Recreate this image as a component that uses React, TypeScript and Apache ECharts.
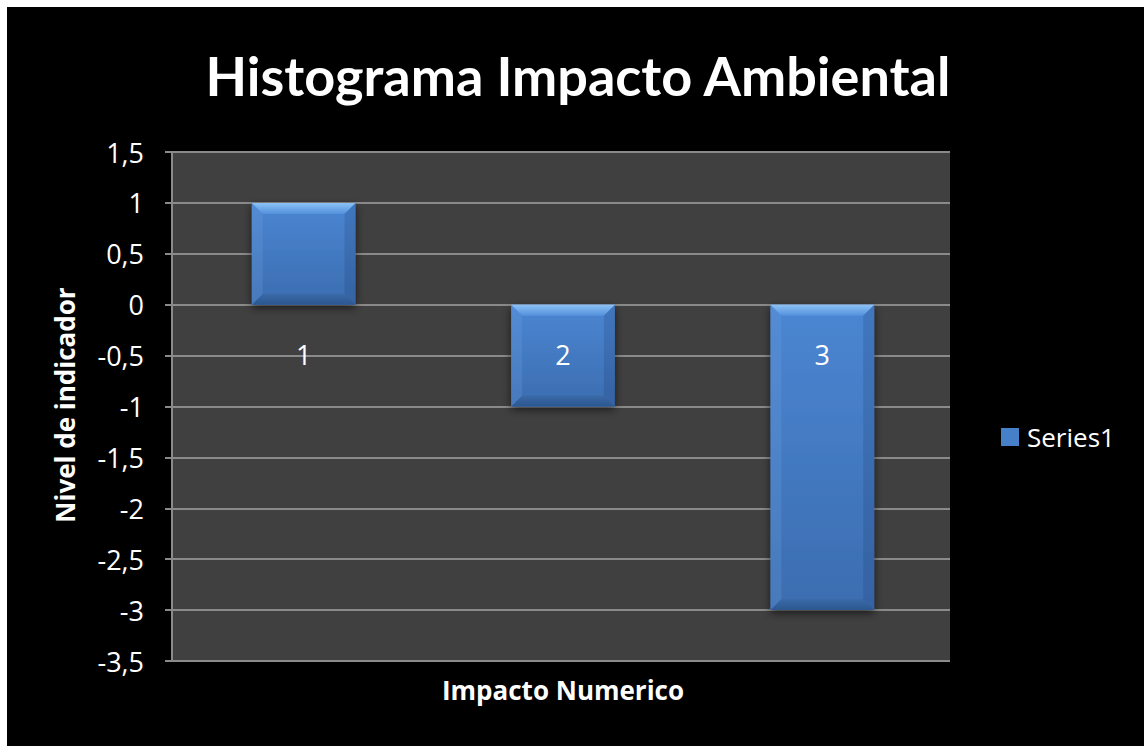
import React, { useEffect, useRef } from "react";
import * as echarts from "echarts";

const categories = ["1", "2", "3"];
const values = [1, -1, -3];
const yTicks = { min: -3.5, max: 1.5, interval: 0.5 };
const seriesName = "Series1";
const titleText = "Histograma Impacto Ambiental";
const xTitle = "Impacto Numerico";
const yTitle = "Nivel de indicador";

const FONT = "'Open Sans', Lato, sans-serif";
const TITLE_FONT = "Lato, 'Open Sans', sans-serif";

export default function App() {
  const ref = useRef<HTMLDivElement>(null);
  useEffect(() => {
    if (!ref.current) return;
    const chart = echarts.init(ref.current, null, { renderer: "svg" });
    const renderItem = (params: any, api: any) => {
      const idx = api.value(0);
      const v = api.value(1);
      const p0 = api.coord([idx, 0]);
      const p1 = api.coord([idx, v]);
      const w = api.size([1, 0])[0] * 0.4;
      const cx = p0[0] + 2;
      const x = cx - w / 2;
      const y = Math.min(p0[1], p1[1]);
      const h = Math.abs(p1[1] - p0[1]);
      const b = 11;
      return {
        type: "group",
        children: [
          {
            type: "rect",
            shape: { x, y, width: w, height: h },
            style: {
              fill: new echarts.graphic.LinearGradient(0, 0, 0, 1, [
                { offset: 0, color: "#4b86d2" },
                { offset: 1, color: "#3b6db0" },
              ]),
              shadowBlur: 8,
              shadowColor: "rgba(0,0,0,0.6)",
              shadowOffsetY: 3,
            },
          },
          {
            type: "polygon",
            shape: { points: [[x, y], [x + w, y], [x + w - b, y + b], [x + b, y + b]] },
            style: {
              fill: new echarts.graphic.LinearGradient(0, 0, 0, 1, [
                { offset: 0, color: "#8cc2f6" },
                { offset: 1, color: "#5491dc" },
              ]),
            },
          },
          {
            type: "polygon",
            shape: { points: [[x, y + h], [x + w, y + h], [x + w - b, y + h - b], [x + b, y + h - b]] },
            style: {
              fill: new echarts.graphic.LinearGradient(0, 0, 0, 1, [
                { offset: 0, color: "#3a6aa8" },
                { offset: 1, color: "#2c578f" },
              ]),
            },
          },
          {
            type: "polygon",
            shape: { points: [[x, y], [x + b, y + b], [x + b, y + h - b], [x, y + h]] },
            style: { fill: "rgba(110,160,225,0.25)" },
          },
          {
            type: "polygon",
            shape: { points: [[x + w, y], [x + w - b, y + b], [x + w - b, y + h - b], [x + w, y + h]] },
            style: { fill: "rgba(20,50,100,0.18)" },
          },
          {
            type: "text",
            x: cx,
            y: p0[1] + 50,
            z2: 10,
            style: {
              text: categories[idx],
              fill: "#ffffff",
              font: `27px ${FONT}`,
              textAlign: "center",
              textVerticalAlign: "middle",
            },
          },
        ],
      };
    };
    chart.setOption({
      animation: false,
      backgroundColor: "#000000",
      textStyle: { fontFamily: FONT },
      grid: {
        left: 165,
        top: 145,
        right: 194,
        bottom: 85,
        show: true,
        backgroundColor: "#404040",
        borderWidth: 0,
      },
      legend: {
        left: 994,
        top: 417,
        padding: 0,
        orient: "vertical",
        itemWidth: 18,
        itemHeight: 18,
        itemGap: 8,
        icon: "rect",
        textStyle: { color: "#ffffff", fontSize: 26, fontFamily: FONT, padding: [0, 0, 0, 3] },
        data: [{ name: seriesName, itemStyle: { color: "#4680c8" } }],
      },
      xAxis: {
        type: "category",
        data: categories,
        axisLine: { show: false },
        axisTick: { show: false },
        axisLabel: { show: false },
        splitLine: { show: false },
      },
      yAxis: {
        type: "value",
        min: yTicks.min,
        max: yTicks.max,
        interval: yTicks.interval,
        axisLine: { show: true, onZero: false, lineStyle: { color: "#8a8a8a", width: 2 } },
        axisTick: { show: true, length: 7, lineStyle: { color: "#8a8a8a", width: 2 } },
        axisLabel: {
          color: "#ffffff",
          fontSize: 27,
          margin: 28,
          fontFamily: FONT,
          formatter: (v: number) => String(v).replace(".", ","),
        },
        splitLine: { show: true, lineStyle: { color: "#8a8a8a", width: 2 } },
      },
      series: [
        {
          name: seriesName,
          type: "custom",
          renderItem,
          encode: { x: 0, y: 1 },
          data: values.map((v, i) => [i, v]),
        },
      ],
      graphic: [
        {
          type: "text",
          x: 571,
          y: 68,
          style: {
            text: titleText,
            fill: "#ffffff",
            font: `bold 54px ${TITLE_FONT}`,
            textAlign: "center",
            textVerticalAlign: "middle",
          },
        },
        {
          type: "text",
          x: 556,
          y: 683,
          style: {
            text: xTitle,
            fill: "#ffffff",
            font: `bold 26px ${FONT}`,
            textAlign: "center",
            textVerticalAlign: "middle",
          },
        },
        {
          type: "text",
          x: 58,
          y: 398,
          rotation: Math.PI / 2,
          style: {
            text: yTitle,
            fill: "#ffffff",
            font: `bold 26px ${FONT}`,
            textAlign: "center",
            textVerticalAlign: "middle",
          },
        },
      ],
    });
    return () => chart.dispose();
  }, []);
  return (
    <div
      ref={ref}
      style={{ position: "fixed", left: 7, top: 7, width: 1137, height: 739 }}
    />
  );
}
